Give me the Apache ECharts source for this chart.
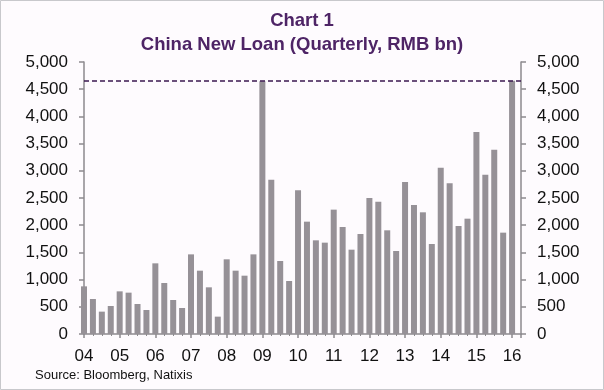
<!DOCTYPE html>
<html>
<head>
<meta charset="utf-8">
<script src="https://cdn.jsdelivr.net/npm/echarts@6/dist/echarts.min.js"></script>
<style>
html,body{margin:0;padding:0;background:#fff;}
#c{width:604px;height:390px;}
</style>
</head>
<body>
<div id="c"></div>
<script>
// Year labels (one per 4 quarters, starting 2004 Q1)
const yearLabels = ['04','05','06','07','08','09','10','11','12','13','14','15','16'];
// Quarterly new loans, RMB bn, 2004Q1 .. 2016Q1
const newLoans = [
  876, 643, 411, 515, 784, 760, 551, 441,
  1299, 937, 625, 478, 1464, 1164, 858, 319,
  1373, 1164, 1072, 1464, 4645, 2837, 1342, 974,
  2641, 2065, 1722, 1679, 2286, 1967, 1550, 1838,
  2500, 2433, 1906, 1526, 2794, 2371, 2237, 1654,
  3058, 2770, 1985, 2120, 3713, 2929, 3388, 1863,
  4657
];
const yTicks = [0, 500, 1000, 1500, 2000, 2500, 3000, 3500, 4000, 4500, 5000];

const fmt = v => v.toLocaleString('en-US');
const chart = echarts.init(document.getElementById('c'));
const axisGray = '#8d8a8e';
const font = 'Liberation Sans, Arial, sans-serif';
const labelStyle = {color:'#111', fontSize:17, fontFamily:font};
const titleStyle = {color:'#4e2466', fontSize:18.5, fontWeight:'bold', fontFamily:font};
function yAxisCfg(pos){
  return {
    type:'value', position:pos, min:yTicks[0], max:yTicks[yTicks.length-1], interval:500,
    axisLine:{show:true, lineStyle:{color:axisGray, width:1.5}},
    axisTick:{show:true, length:5, lineStyle:{color:axisGray, width:1.5}},
    splitLine:{show:false},
    axisLabel:Object.assign({margin:16, formatter:fmt}, labelStyle)
  };
}
chart.setOption({
  backgroundColor:'#fefbfe',
  animation:false,
  title:[
    {text:'Chart 1', left:'center', top:6, textStyle:titleStyle},
    {text:'China New Loan (Quarterly, RMB bn)', left:'center', top:30, textStyle:titleStyle}
  ],
  grid:{left:84, right:83, top:62, bottom:56},
  xAxis:{
    type:'value', min:0, max:newLoans.length, interval:4,
    axisLine:{show:true, onZero:false, lineStyle:{color:axisGray, width:1.5}},
    axisTick:{show:true, length:4, lineStyle:{color:axisGray, width:1.5}},
    minorTick:{show:true, splitNumber:4, length:2, lineStyle:{color:axisGray, width:1}},
    splitLine:{show:false},
    axisLabel:Object.assign({margin:14, formatter:v => (v % 4 === 0 && yearLabels[v/4] !== undefined) ? yearLabels[v/4] : ''}, labelStyle)
  },
  yAxis:[yAxisCfg('left'), yAxisCfg('right')],
  graphic:[
    {type:'rect', shape:{x:0.5, y:0.5, width:603, height:389}, style:{fill:'none', stroke:'#c8c8cc', lineWidth:1}, silent:true, z:100},
    {type:'text', left:35, top:369, style:{text:'Source: Bloomberg, Natixis', fill:'#111', fontSize:13, fontFamily:font}}
  ],
  series:[{
    type:'bar', xAxisIndex:0, yAxisIndex:0,
    data:newLoans.map((v,i)=>[i,v]),
    barWidth:6,
    clip:true,
    itemStyle:{color:'#969197'},
    markLine:{
      silent:true, symbol:'none', animation:false,
      label:{show:false},
      lineStyle:{type:[5,3], color:'#3b1850', width:1.5},
      data:[{type:'max', valueDim:'y'}]
    }
  }]
});
</script>
</body>
</html>
